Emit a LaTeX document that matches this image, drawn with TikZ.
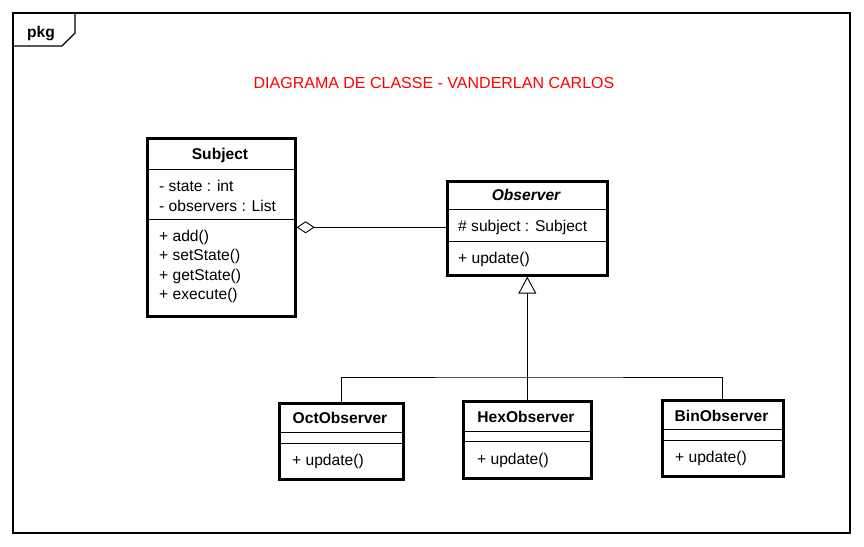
\documentclass[tikz,border=0pt]{standalone}
\usepackage{fontspec}
\setmainfont{Liberation Sans}
\usetikzlibrary{arrows.meta}

\tikzset{
  clsbox/.style={draw, line width=2.6pt, anchor=north west, inner sep=0pt},
  clsname/.style={font=\bfseries, anchor=base, inner sep=0pt},
  member/.style={anchor=base west, inner sep=0pt},
  sepline/.style={line width=0.9pt},
  link/.style={line width=0.9pt},
}

\begin{document}
\begin{tikzpicture}[x=1pt, y=-1pt, node font=\fontsize{15.6}{19}\selectfont]
\useasboundingbox (0,0) rectangle (864,546);

% package frame
\draw[line width=1.2pt] (13,13) rectangle (850,533);
\draw[line width=1.2pt] (13,46) -- (62,46) -- (75,33) -- (75,13);
\node[clsname] (pkg) at (41,37) {pkg};

\node[anchor=base, inner sep=0pt, text=red, font=\fontsize{16}{19}\selectfont] (title) at (434,88) {DIAGRAMA DE CLASSE - VANDERLAN CARLOS};

% Subject
\node[clsbox, minimum width=148pt, minimum height=178pt] (subject) at (146,137) {};
\draw[sepline] (subject.west |- 0,169) -- (subject.east |- 0,169);
\draw[sepline] (subject.west |- 0,219) -- (subject.east |- 0,219);
\node[clsname] (subjectN) at (220,159) {Subject};
\node[member] (subjectA1) at (159,191) {- state : int};
\node[member] (subjectA2) at (159,211) {- observers : List};
\node[member] (subjectO1) at (159,241) {+ add()};
\node[member] (subjectO2) at (159,260) {+ setState()};
\node[member] (subjectO3) at (159,280) {+ getState()};
\node[member] (subjectO4) at (159,299) {+ execute()};

% Observer
\node[clsbox, minimum width=160pt, minimum height=94pt] (observer) at (446,180) {};
\draw[sepline] (observer.west |- 0,209) -- (observer.east |- 0,209);
\draw[sepline] (observer.west |- 0,241) -- (observer.east |- 0,241);
\node[clsname, font=\bfseries\itshape] (observerN) at (526,200) {Observer};
\node[member] (observerA1) at (458,231.5) {\# subject : Subject};
\node[member] (observerO1) at (458,263) {+ update()};

% Second row
\node[clsbox, minimum width=124pt, minimum height=76pt] (octobs) at (278,402) {};
\draw[sepline] (octobs.west |- 0,432) -- (octobs.east |- 0,432);
\draw[sepline] (octobs.west |- 0,443) -- (octobs.east |- 0,443);
\node[clsname] (octobsN) at (340,423) {OctObserver};
\node[member] (octobsO1) at (292,465) {+ update()};

\node[clsbox, minimum width=128pt, minimum height=77pt] (hexobs) at (462,400) {};
\draw[sepline] (hexobs.west |- 0,431) -- (hexobs.east |- 0,431);
\draw[sepline] (hexobs.west |- 0,441) -- (hexobs.east |- 0,441);
\node[clsname] (hexobsN) at (526,422) {HexObserver};
\node[member] (hexobsO1) at (477,464) {+ update()};

\node[clsbox, minimum width=121pt, minimum height=76pt] (binobs) at (661,399) {};
\draw[sepline] (binobs.west |- 0,429) -- (binobs.east |- 0,429);
\draw[sepline] (binobs.west |- 0,440) -- (binobs.east |- 0,440);
\node[clsname] (binobsN) at (721.5,421) {BinObserver};
\node[member] (binobsO1) at (675,462) {+ update()};

% aggregation
\draw[link, {Diamond[open, length=18pt, width=12pt]}-] (subject.east) -- (subject.east -| observer.west);

% generalization
\coordinate (joint) at (526,377);
\draw[link, -{Triangle[open, length=17pt, width=18pt]}] (hexobs.north) -- (observer.south);
\draw[link] (octobs.north) |- (joint) -| (binobs.north);
\end{tikzpicture}
\end{document}
